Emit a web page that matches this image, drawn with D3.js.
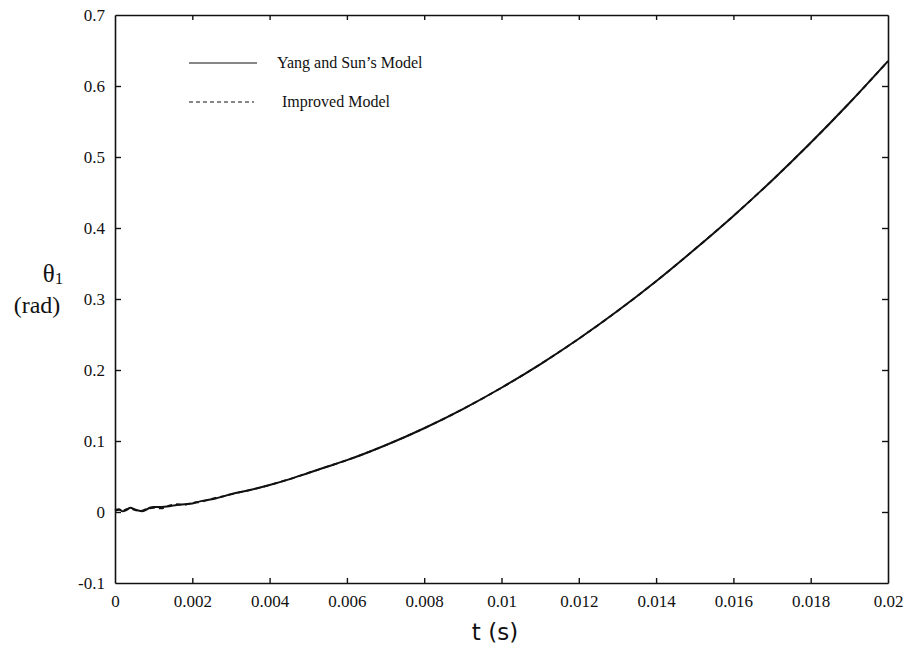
<!DOCTYPE html>
<html>
<head>
<meta charset="utf-8">
<script src="https://cdn.jsdelivr.net/npm/d3@7"></script>
<style>
  body { margin: 0; background: #fff; }
  svg text { font-family: "Liberation Serif", "DejaVu Serif", serif; }
</style>
</head>
<body>
<svg id="drawing_region"></svg>
<script>
// time samples (s)
const times = [0, 0.0001, 0.0002, 0.0003, 0.0004, 0.0005, 0.0006, 0.0007, 0.0008, 0.0009,
  0.001, 0.0012, 0.0014, 0.0016, 0.0018, 0.002, 0.0022, 0.0024, 0.0026, 0.0028,
  0.003, 0.0035, 0.004, 0.0045, 0.005, 0.0055, 0.006, 0.007, 0.008, 0.009,
  0.01, 0.011, 0.012, 0.013, 0.014, 0.015, 0.016, 0.017, 0.018, 0.019, 0.02];

// theta1 (rad), Yang and Sun's model
const yangSun = [0.003, 0.004, 0.001, 0.003, 0.006, 0.004, 0.002, 0.001, 0.003, 0.006,
  0.007, 0.007, 0.008, 0.010, 0.011, 0.012, 0.015, 0.017, 0.019, 0.022,
  0.025, 0.031, 0.038, 0.046, 0.055, 0.064, 0.073, 0.094, 0.118, 0.145,
  0.175, 0.208, 0.244, 0.283, 0.325, 0.370, 0.417, 0.467, 0.520, 0.576, 0.635];

// theta1 (rad), improved model
const improved = [0.002, 0.003, 0.002, 0.004, 0.005, 0.003, 0.002, 0.002, 0.004, 0.005,
  0.006, 0.005, 0.009, 0.011, 0.010, 0.013, 0.014, 0.017, 0.020, 0.022,
  0.025, 0.031, 0.038, 0.046, 0.055, 0.064, 0.073, 0.094, 0.118, 0.145,
  0.175, 0.208, 0.244, 0.283, 0.325, 0.370, 0.417, 0.467, 0.520, 0.576, 0.635];

const xTicks = [0, 0.002, 0.004, 0.006, 0.008, 0.01, 0.012, 0.014, 0.016, 0.018, 0.02];
const yTicks = [-0.1, 0, 0.1, 0.2, 0.3, 0.4, 0.5, 0.6, 0.7];

const legendNames = ["Yang and Sun\u2019s Model", "Improved Model"];

const serif = '"Liberation Serif", "DejaVu Serif", serif';

const config = {
  width: 909,
  height: 650,
  margin: {top: 15, right: 21, bottom: 67, left: 115}
};

const svg = d3.select('#drawing_region')
  .attr('width', config.width)
  .attr('height', config.height);

const chart = svg.append('g')
  .attr('transform', `translate(${config.margin.left}, ${config.margin.top})`);

const inner_width = config.width - config.margin.left - config.margin.right;
const inner_height = config.height - config.margin.top - config.margin.bottom;

const xscale = d3.scaleLinear().domain([0, 0.02]).range([0, inner_width]);
const yscale = d3.scaleLinear().domain([-0.1, 0.7]).range([inner_height, 0]);

const fmtX = d => d === 0 ? "0" : String(+d.toFixed(3));
const fmtY = d => d === 0 ? "0" : String(+d.toFixed(1));

// bottom axis with labels, ticks pointing in
const xaxis_group = chart.append('g')
  .attr('transform', `translate(0, ${inner_height})`)
  .call(d3.axisBottom(xscale).tickValues(xTicks).tickSizeInner(-5).tickSizeOuter(0)
    .tickPadding(12).tickFormat(fmtX));

// top axis, no labels
const xaxis_top = chart.append('g')
  .call(d3.axisTop(xscale).tickValues(xTicks).tickSizeInner(-5).tickSizeOuter(0)
    .tickFormat(''));

// left axis with labels
const yaxis_group = chart.append('g')
  .call(d3.axisLeft(yscale).tickValues(yTicks).tickSizeInner(-6).tickSizeOuter(0)
    .tickPadding(10).tickFormat(fmtY));

// right axis, no labels
const yaxis_right = chart.append('g')
  .attr('transform', `translate(${inner_width}, 0)`)
  .call(d3.axisRight(yscale).tickValues(yTicks).tickSizeInner(-6).tickSizeOuter(0)
    .tickFormat(''));

[xaxis_group, xaxis_top, yaxis_group, yaxis_right].forEach(g => {
  g.attr('font-family', serif).attr('font-size', 17);
  g.select('.domain').attr('stroke', '#111').attr('stroke-width', 1.6);
  g.selectAll('.tick line').attr('stroke', '#111').attr('stroke-width', 1.4);
  g.selectAll('.tick text')
    .attr('font-family', serif)
    .style('font-family', serif)
    .style('font-size', '17px')
    .attr('fill', '#111');
});

// no tick marks on the frame corners
xaxis_group.selectAll('.tick line').filter(d => d === 0 || d === 0.02).remove();
xaxis_top.selectAll('.tick line').filter(d => d === 0 || d === 0.02).remove();
yaxis_group.selectAll('.tick line').filter(d => d === -0.1 || d === 0.7).remove();
yaxis_right.selectAll('.tick line').filter(d => d === -0.1 || d === 0.7).remove();

const line = d3.line()
  .x((d, i) => xscale(times[i]))
  .y(d => yscale(d))
  .curve(d3.curveMonotoneX);

chart.append('path')
  .datum(yangSun)
  .attr('fill', 'none')
  .attr('stroke', '#111')
  .attr('stroke-width', 2)
  .attr('d', line);

chart.append('path')
  .datum(improved)
  .attr('fill', 'none')
  .attr('stroke', '#111')
  .attr('stroke-width', 1.8)
  .attr('stroke-dasharray', '5,4')
  .attr('d', line);

// legend
const legend = svg.append('g');
legendNames.forEach((name, i) => {
  const y = 63 + i * 39;
  legend.append('line')
    .attr('x1', 189).attr('x2', i === 0 ? 257 : 254)
    .attr('y1', y).attr('y2', y)
    .attr('stroke', '#111')
    .attr('stroke-width', 1.2)
    .attr('stroke-dasharray', i === 0 ? null : '4,3');
  legend.append('text')
    .attr('x', i === 0 ? 277 : 282)
    .attr('y', y + 5)
    .style('font-family', serif)
    .style('font-size', '16px')
    .attr('fill', '#111')
    .text(name);
});

// axis labels
svg.append('text')
  .attr('x', 495).attr('y', 640)
  .attr('text-anchor', 'middle')
  .style('font-family', '"DejaVu Sans", sans-serif')
  .style('font-size', '23px')
  .attr('fill', '#111')
  .text('t (s)');

const ylab = svg.append('text')
  .attr('x', 53).attr('y', 282)
  .attr('text-anchor', 'middle')
  .style('font-family', serif)
  .style('font-size', '25px')
  .attr('fill', '#111');
ylab.append('tspan').text('\u03b8');
ylab.append('tspan').style('font-size', '17px').attr('dy', 2).text('1');

svg.append('text')
  .attr('x', 37).attr('y', 313)
  .attr('text-anchor', 'middle')
  .style('font-family', serif)
  .style('font-size', '24px')
  .attr('fill', '#111')
  .text('(rad)');
</script>
</body>
</html>
